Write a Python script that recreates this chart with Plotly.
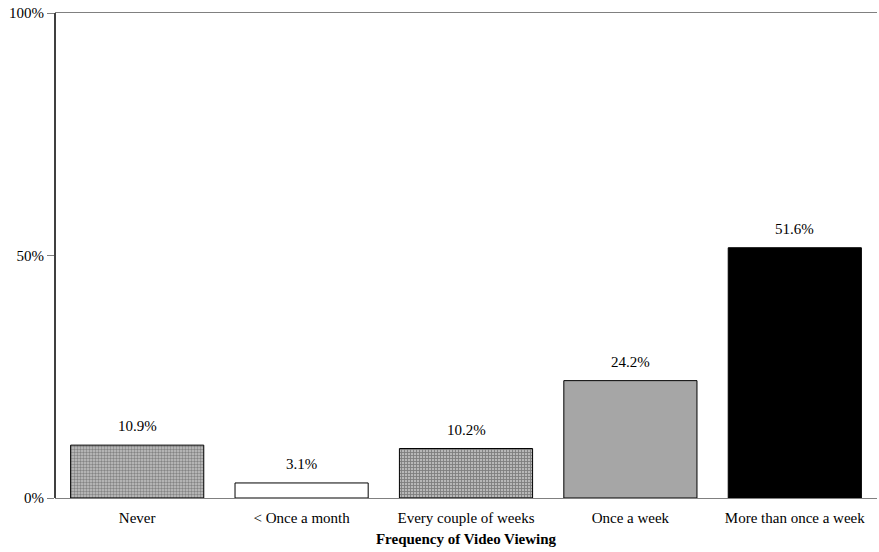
import plotly.graph_objects as go

categories = ["Never", "< Once a month", "Every couple of weeks", "Once a week", "More than once a week"]
shares = [10.9, 3.1, 10.2, 24.2, 51.6]
labels = ["10.9%", "3.1%", "10.2%", "24.2%", "51.6%"]
tick_vals = [0, 50, 100]
tick_text = ["0%", "50%", "100%"]

fills = ["#c4c4c4", "#ffffff", "#b8b8b8", "#a6a6a6", "#000000"]
pattern_shapes = [".", "", "+", "", ""]
pattern_fg = ["#5e5e5e", "#000000", "#3a3a3a", "#000000", "#000000"]

font = "Liberation Serif, Times New Roman, serif"

fig = go.Figure(
    go.Bar(
        x=categories,
        y=shares,
        marker=dict(
            color=fills,
            line=dict(color="#000000", width=1),
            pattern=dict(
                shape=pattern_shapes,
                fgcolor=pattern_fg,
                size=3,
                solidity=0.5,
                fillmode="overlay",
            ),
        ),
        width=0.81,
    )
)

# value labels above each bar
for cat, val, lab in zip(categories, shares, labels):
    fig.add_annotation(
        x=cat, y=val, text=lab, showarrow=False,
        yanchor="bottom", yshift=9,
        font=dict(family=font, size=15, color="#000000"),
    )

fig.update_layout(
    width=879,
    height=552,
    margin=dict(l=55, r=2, t=13, b=54),
    paper_bgcolor="#ffffff",
    plot_bgcolor="#ffffff",
    font=dict(family=font, size=15, color="#000000"),
    showlegend=False,
    xaxis=dict(
        title=dict(
            text="<b>Frequency of Video Viewing</b>",
            font=dict(family=font, size=15),
            standoff=8,
        ),
        showline=True,
        linecolor="#808080",
        linewidth=1,
        mirror=True,
        ticks="",
        ticklabelstandoff=6,
        tickfont=dict(family=font, size=15),
        showgrid=False,
    ),
    yaxis=dict(
        range=[0, 100],
        tickvals=tick_vals,
        ticktext=tick_text,
        showline=False,
        ticks="outside",
        ticklen=7,
        tickcolor="#808080",
        tickfont=dict(family=font, size=15),
        showgrid=False,
        zeroline=False,
    ),
    shapes=[
        dict(type="line", xref="paper", yref="paper", x0=0, x1=0, y0=0, y1=1,
             line=dict(color="#000000", width=1.5)),
    ],
)

fig.write_html("out.html")
